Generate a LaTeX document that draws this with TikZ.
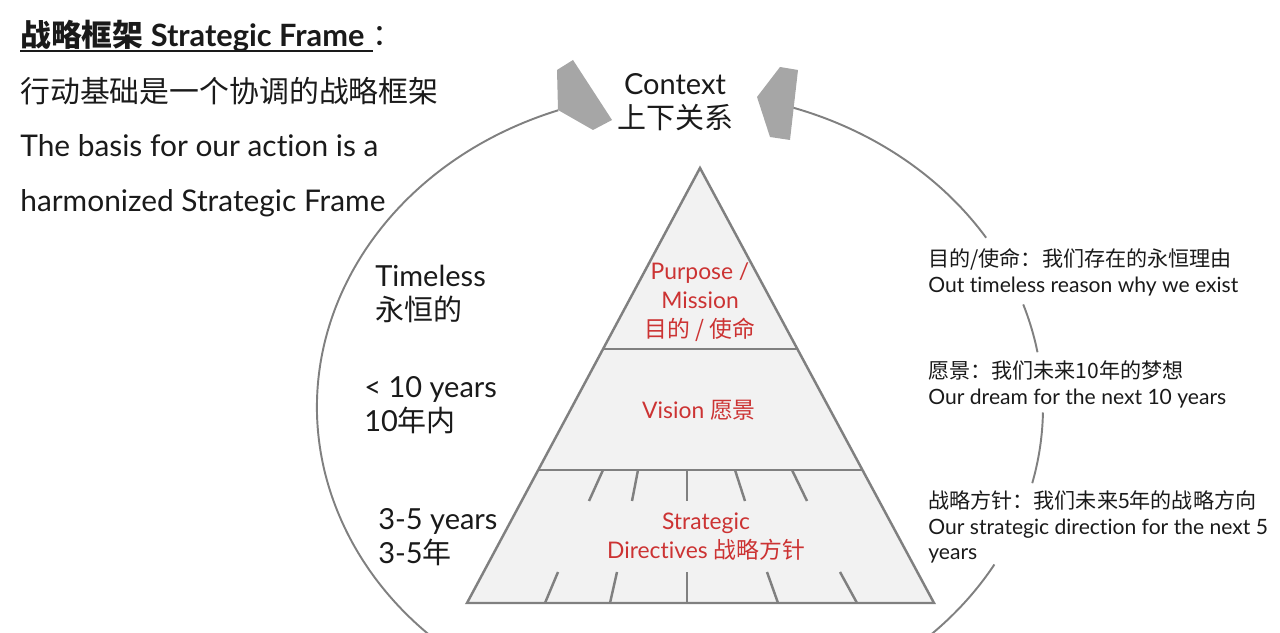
\documentclass[tikz,border=0pt]{standalone}
\usepackage{fontspec}
\setmainfont{Lato}[Ligatures=NoCommon]
\newfontfamily\cjk{Noto Sans CJK SC}
\usepackage{tikz}
\usetikzlibrary{positioning,calc}
\definecolor{frameline}{RGB}{128,128,128}
\definecolor{tierfill}{RGB}{242,242,242}
\definecolor{tiptone}{RGB}{166,166,166}
\definecolor{tierred}{RGB}{204,51,51}
\definecolor{inktext}{RGB}{26,26,26}

\begin{document}
\begin{tikzpicture}[
    x=0.02cm, y=0.02cm,
    heading/.style={
		anchor=west,
		inner sep=0pt,
		align=left,
		text=inktext,
		font=\fontsize{17pt}{31.2pt}\selectfont
	},
    span/.style={
		anchor=west,
		inner sep=0pt,
		align=left,
		text=inktext,
		font=\fontsize{16.5pt}{19.5pt}\selectfont
	},
    note/.style={
		anchor=west,
		inner sep=0pt,
		align=left,
		text=inktext,
		font=\fontsize{12pt}{14.7pt}\selectfont
	},
    tier/.style={
		inner sep=0pt,
		align=center,
		text=tierred,
		font=\fontsize{13pt}{16.4pt}\selectfont
	},
    rim/.style={draw=frameline, line width=1.1pt},
    wall/.style={draw=frameline, line width=1.4pt},
    headshape/.style={fill=tiptone}
  ]
  \useasboundingbox (0,0) rectangle (1280,632);

  % the ring round the pyramid, broken where the notes stand
  \coordinate (hub) at (680,225);
  \foreach \from/\to in {109.6/330, 72/32.5, 19/10, -1/-14}
    \draw[rim] (hub) ++(\from:363 and 315)
      arc[start angle=\from, end angle=\to, x radius=363, y radius=315];
  \fill[headshape] (557,562) -- (573,572) -- (612,512) -- (593,502) -- (558,522) -- cycle;
  \fill[headshape] (780,565) -- (798,562) -- (790,492) -- (770,495) -- (757,535) -- cycle;

  % the pyramid
  \coordinate (apex) at (700,464);
  \coordinate (bl) at (467,29);
  \coordinate (br) at (934,29);
  \draw[wall, fill=tierfill] (apex) -- (br) -- (bl) -- cycle;
  \draw[wall] ($(apex)!0.416!(bl)$) -- ($(apex)!0.416!(br)$);
  \draw[wall] ($(apex)!0.694!(bl)$) -- ($(apex)!0.694!(br)$);
  \foreach \xa/\xb in {603/589, 638/632, 687/687, 735/745, 792/807}
    \draw[wall] (\xa,162) -- (\xb,131);
  \foreach \xa/\xb in {558/545, 617/610, 687/687, 767/778, 840/857}
    \draw[wall] (\xa,60) -- (\xb,29);

  \node[tier] (purpose) at (700,330) {Purpose /\\Mission\\{\cjk 目的 / 使命}};
  \node[tier] (vision) at (699,222) {Vision {\cjk 愿景}};
  \node[tier] (directive) at (706,95) {Strategic\\Directives {\cjk 战略方针}};

  % time spans on the left
  \node[span] (timeless) at (375,338) {Timeless\\{\cjk 永恒的}};
  \node[span] (decade) at (364,227) {< 10 years\\10{\cjk 年内}};
  \node[span] (fewyears) at (378,95) {3-5 years\\3-5{\cjk 年}};

  \node[span, anchor=center, align=center] (context) at (675,530) {Context\\{\cjk 上下关系}};

  % notes on the right
  \node[note] (purposenote) at (928,360)
    {{\cjk 目的/使命：我们存在的永恒理由}\\Out timeless reason why we exist};
  \node[note] (visionnote) at (928,248)
    {{\cjk 愿景：我们未来10年的梦想}\\Our dream for the next 10 years};
  \node[note] (directivenote) at (928,105)
    {{\cjk 战略方针：我们未来5年的战略方向}\\Our strategic direction for the next 5\\years};

  % heading block
  \node[heading, font=\fontsize{17.5pt}{31.2pt}\selectfont\bfseries] (title) at (20,596)
    {{\cjk 战略框架} Strategic Frame};
  \node[heading, right=4pt of title] (colon) {\cjk ：};
  \draw[inktext, line width=1pt] ([yshift=-2.8pt]title.base west) -- ([xshift=4.5pt, yshift=-2.8pt]title.base east);
  \node[heading] (basis) at (20,485)
    {{\cjk 行动基础是一个协调的战略框架}\\The basis for our action is a\\harmonized Strategic Frame};

\end{tikzpicture}
\end{document}
